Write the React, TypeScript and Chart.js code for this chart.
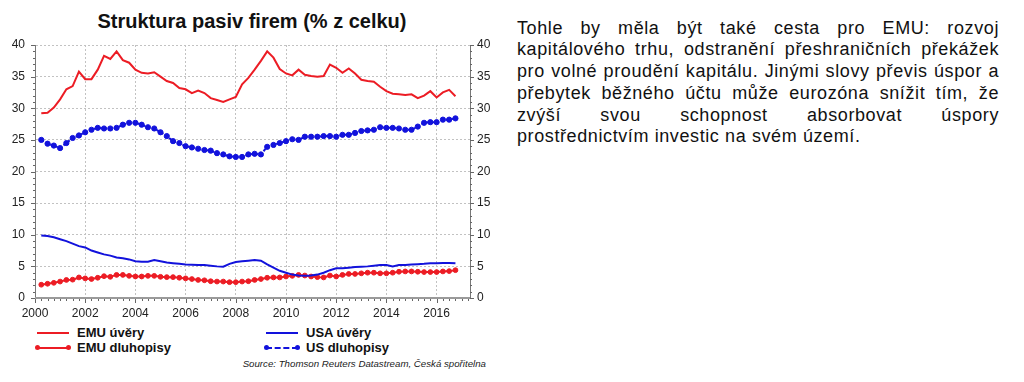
import React, { useEffect, useRef } from 'react';
import { Chart, registerables } from 'chart.js';

Chart.register(...registerables);

// Quarterly observation dates (categories)
const quarters: number[] = [
  2000.25, 2000.5, 2000.75,
  2001.0, 2001.25, 2001.5, 2001.75,
  2002.0, 2002.25, 2002.5, 2002.75,
  2003.0, 2003.25, 2003.5, 2003.75,
  2004.0, 2004.25, 2004.5, 2004.75,
  2005.0, 2005.25, 2005.5, 2005.75,
  2006.0, 2006.25, 2006.5, 2006.75,
  2007.0, 2007.25, 2007.5, 2007.75,
  2008.0, 2008.25, 2008.5, 2008.75,
  2009.0, 2009.25, 2009.5, 2009.75,
  2010.0, 2010.25, 2010.5, 2010.75,
  2011.0, 2011.25, 2011.5, 2011.75,
  2012.0, 2012.25, 2012.5, 2012.75,
  2013.0, 2013.25, 2013.5, 2013.75,
  2014.0, 2014.25, 2014.5, 2014.75,
  2015.0, 2015.25, 2015.5, 2015.75,
  2016.0, 2016.25, 2016.5, 2016.75,
];

const emuUvery: number[] = [
  29.2, 29.3, 30.1,
  31.4, 33.0, 33.5, 35.8,
  34.6, 34.6, 36.1, 38.3,
  37.8, 39.0, 37.6, 37.2,
  36.1, 35.6, 35.5, 35.7,
  35.0, 34.3, 34.0, 33.2,
  33.0, 32.4, 32.8, 32.4,
  31.6, 31.3, 31.0, 31.4,
  31.8, 33.8, 34.8, 36.1,
  37.5, 39.0, 38.0, 36.2,
  35.5, 35.2, 36.1, 35.3,
  35.1, 35.0, 35.1, 36.9,
  36.4, 35.6, 36.3, 35.5,
  34.5, 34.3, 34.2, 33.4,
  32.7, 32.3, 32.2, 32.1,
  32.2, 31.6, 32.0, 32.7,
  31.7, 32.5, 32.9, 31.9,
];

const usDluhopisy: number[] = [
  25.0, 24.4, 24.1,
  23.7, 24.5, 25.3, 25.7,
  26.2, 26.6, 26.9, 26.8,
  26.8, 26.9, 27.4, 27.7,
  27.7, 27.4, 27.0, 26.8,
  26.2, 25.6, 24.8, 24.5,
  24.0, 23.8, 23.6, 23.4,
  23.3, 22.9, 22.7, 22.4,
  22.3, 22.3, 22.7, 22.8,
  22.7, 23.9, 24.2, 24.5,
  24.8, 25.1, 25.0, 25.5,
  25.5, 25.5, 25.6, 25.6,
  25.5, 25.8, 25.8, 26.1,
  26.4, 26.5, 26.6, 27.0,
  26.9, 26.9, 26.8, 26.6,
  26.6, 27.1, 27.7, 27.8,
  27.8, 28.2, 28.2, 28.4,
];

const usaUvery: number[] = [
  9.9, 9.8, 9.6,
  9.3, 9.0, 8.6, 8.2,
  8.0, 7.5, 7.2, 6.9,
  6.7, 6.4, 6.3, 6.1,
  5.8, 5.75, 5.75, 6.0,
  5.8, 5.6, 5.5, 5.4,
  5.3, 5.25, 5.2, 5.2,
  5.1, 5.0, 4.95, 5.4,
  5.7, 5.8, 5.9, 6.0,
  5.9, 5.3, 4.8, 4.3,
  4.0, 3.7, 3.55, 3.5,
  3.55, 3.7, 4.0, 4.4,
  4.7, 4.7, 4.8, 4.9,
  4.95, 5.0, 5.1, 5.2,
  5.2, 5.0, 5.2, 5.2,
  5.3, 5.35, 5.4, 5.5,
  5.5, 5.55, 5.55, 5.5,
];

const emuDluhopisy: number[] = [
  2.1, 2.25, 2.4,
  2.6, 2.85, 2.9, 3.25,
  3.1, 3.0, 3.2, 3.45,
  3.35, 3.65, 3.65, 3.5,
  3.4, 3.4, 3.5, 3.5,
  3.35, 3.3, 3.3, 3.2,
  3.1, 3.0, 2.85, 2.8,
  2.65, 2.6, 2.6, 2.5,
  2.5, 2.6, 2.65, 2.85,
  3.0, 3.2, 3.25, 3.25,
  3.4, 3.5, 3.65, 3.55,
  3.4, 3.3, 3.25, 3.55,
  3.4, 3.65, 3.8, 3.8,
  3.9, 4.0, 4.0, 3.9,
  3.9, 4.0, 4.15, 4.2,
  4.2, 4.15, 4.1, 4.1,
  4.1, 4.2, 4.25, 4.4,
];

const yearTicks: number[] = [2000, 2002, 2004, 2006, 2008, 2010, 2012, 2014, 2016];
const valueTicks: number[] = [0, 5, 10, 15, 20, 25, 30, 35, 40];

const X_MIN = 2000;
const X_MAX = 2017.33;
const Y_MIN = 0;
const Y_MAX = 40;

const RED = '#ec1c24';
const BLUE = '#1212dc';
const FONT = '"Liberation Sans", Arial, sans-serif';

const paragraphLines: string[] = [
  'Tohle by měla být také cesta pro EMU: rozvoj',
  'kapitálového trhu, odstranění přeshraničních překážek',
  'pro volné proudění kapitálu. Jinými slovy převis úspor a',
  'přebytek běžného účtu může eurozóna snížit tím, že',
  'zvýší svou schopnost absorbovat úspory',
  'prostřednictvím investic na svém území.',
];

const tickMarksPlugin = {
  id: 'tickMarks',
  afterDraw(chart: any) {
    const { ctx, chartArea, scales } = chart;
    const { left, right, bottom } = chartArea;
    ctx.save();
    ctx.strokeStyle = '#666';
    ctx.lineWidth = 1;
    ctx.beginPath();
    for (let v = Y_MIN; v <= Y_MAX; v += 1) {
      const y = Math.round(scales.y.getPixelForValue(v)) + 0.5;
      const len = v % 5 === 0 ? 4 : 2;
      ctx.moveTo(left - len, y);
      ctx.lineTo(left, y);
      ctx.moveTo(right, y);
      ctx.lineTo(right + len, y);
    }
    for (let q = X_MIN; q <= X_MAX; q += 0.25) {
      const x = Math.round(scales.x.getPixelForValue(q)) + 0.5;
      const len = Math.abs(q % 2) < 1e-6 ? 5 : 3;
      ctx.moveTo(x, bottom);
      ctx.lineTo(x, bottom + len);
    }
    ctx.stroke();
    // thick bottom axis
    ctx.strokeStyle = '#9a9a9a';
    ctx.lineWidth = 2;
    ctx.beginPath();
    ctx.moveTo(left, bottom);
    ctx.lineTo(right, bottom);
    ctx.stroke();
    ctx.restore();
  },
};

function ChartCanvas() {
  const ref = useRef<HTMLCanvasElement | null>(null);
  useEffect(() => {
    if (!ref.current) return;
    const pts = (arr: number[]) => quarters.map((q, i) => ({ x: q, y: arr[i] }));
    const chart = new Chart(ref.current, {
      type: 'line',
      data: {
        datasets: [
          {
            label: 'EMU úvěry',
            data: pts(emuUvery),
            borderColor: RED,
            backgroundColor: RED,
            borderWidth: 2,
            pointRadius: 0,
            tension: 0,
          },
          {
            label: 'USA úvěry',
            data: pts(usaUvery),
            borderColor: BLUE,
            backgroundColor: BLUE,
            borderWidth: 2,
            pointRadius: 0,
            tension: 0,
          },
          {
            label: 'EMU dluhopisy',
            data: pts(emuDluhopisy),
            borderColor: RED,
            backgroundColor: RED,
            borderWidth: 2,
            pointRadius: 2.4,
            pointBorderWidth: 1,
            tension: 0,
          },
          {
            label: 'US dluhopisy',
            data: pts(usDluhopisy),
            borderColor: BLUE,
            backgroundColor: BLUE,
            borderWidth: 2,
            borderDash: [3, 2],
            pointRadius: 2.6,
            pointBorderWidth: 1,
            tension: 0,
          },
        ],
      } as any,
      options: {
        animation: false,
        responsive: false,
        maintainAspectRatio: false,
        layout: { padding: { top: 45, left: 0, right: 0, bottom: 0 } },
        font: { family: FONT },
        plugins: {
          legend: { display: false },
          tooltip: { enabled: false },
          title: { display: false },
        },
        scales: {
          x: {
            type: 'linear',
            min: X_MIN,
            max: X_MAX,
            afterBuildTicks: (s: any) => {
              s.ticks = yearTicks.map((v) => ({ value: v }));
            },
            afterFit: (s: any) => {
              s.height = 27;
            },
            grid: { color: '#c2c2c2', lineWidth: 1, drawTicks: false },
            border: { display: false, dash: [2, 2] },
            ticks: {
              padding: 8,
              color: '#222',
              font: { family: FONT, size: 12 },
              maxRotation: 0,
              autoSkip: false,
              callback: (v: any) => String(v),
            },
          },
          y: {
            type: 'linear',
            position: 'left',
            min: Y_MIN,
            max: Y_MAX,
            afterBuildTicks: (s: any) => {
              s.ticks = valueTicks.map((v) => ({ value: v }));
            },
            afterFit: (s: any) => {
              s.width = 35;
            },
            grid: { color: '#c2c2c2', lineWidth: 1, drawTicks: false },
            border: { display: true, color: '#777', width: 1, dash: [2, 2] },
            ticks: {
              padding: 10,
              color: '#222',
              font: { family: FONT, size: 12 },
              callback: (v: any) => String(v),
            },
          },
          y2: {
            type: 'linear',
            position: 'right',
            min: Y_MIN,
            max: Y_MAX,
            afterBuildTicks: (s: any) => {
              s.ticks = valueTicks.map((v) => ({ value: v }));
            },
            afterFit: (s: any) => {
              s.width = 40;
            },
            grid: { drawOnChartArea: false, drawTicks: false },
            border: { display: true, color: '#777', width: 1 },
            ticks: {
              padding: 7,
              color: '#222',
              font: { family: FONT, size: 12 },
              callback: (v: any) => String(v),
            },
          },
        },
      } as any,
      plugins: [tickMarksPlugin],
    });
    return () => chart.destroy();
  }, []);
  return (
    <canvas
      ref={ref}
      width={510}
      height={325}
      style={{ position: 'absolute', left: 0, top: 0, width: 510, height: 325 }}
    />
  );
}

function LegendSample({ color, dots, dashed }: { color: string; dots?: boolean; dashed?: boolean }) {
  return (
    <div style={{ position: 'relative', width: 32, height: 8 }}>
      <div
        style={{
          position: 'absolute',
          left: 0,
          right: 0,
          top: 3,
          height: 0,
          borderTop: `2px ${dashed ? 'dashed' : 'solid'} ${color}`,
        }}
      />
      {dots && (
        <>
          <div style={{ position: 'absolute', left: -2, top: 1.5, width: 5, height: 5, borderRadius: 3, background: color }} />
          <div style={{ position: 'absolute', right: -2, top: 1.5, width: 5, height: 5, borderRadius: 3, background: color }} />
        </>
      )}
    </div>
  );
}

function LegendItem({ x, top, label, color, dots, dashed }: any) {
  return (
    <div
      style={{
        position: 'absolute',
        left: x,
        top,
        display: 'flex',
        alignItems: 'center',
        height: 15,
        fontFamily: FONT,
        fontWeight: 'bold',
        fontSize: 13,
        lineHeight: '15px',
        color: '#111',
        whiteSpace: 'nowrap',
      }}
    >
      <LegendSample color={color} dots={dots} dashed={dashed} />
      <span style={{ marginLeft: 8 }}>{label}</span>
    </div>
  );
}

export default function App() {
  return (
    <div style={{ position: 'absolute', left: 0, top: 0, width: 1024, height: 382, background: '#fff', overflow: 'hidden' }}>
      <div
        style={{
          position: 'absolute',
          left: 0,
          width: 504,
          top: 11,
          textAlign: 'center',
          fontFamily: FONT,
          fontWeight: 'bold',
          fontSize: 20,
          lineHeight: '20px',
          color: '#111',
          whiteSpace: 'nowrap',
        }}
      >
        Struktura pasiv firem (% z celku)
      </div>
      <ChartCanvas />
      <LegendItem x={37} top={325} label="EMU úvěry" color={RED} />
      <LegendItem x={37} top={340} label="EMU dluhopisy" color={RED} dots />
      <LegendItem x={266} top={325} label="USA úvěry" color={BLUE} />
      <LegendItem x={266} top={340} label="US dluhopisy" color={BLUE} dots dashed />
      <div
        style={{
          position: 'absolute',
          right: 1024 - 486,
          top: 358,
          fontFamily: FONT,
          fontStyle: 'italic',
          fontSize: 9.7,
          lineHeight: '12px',
          color: '#222',
          whiteSpace: 'nowrap',
        }}
      >
        Source: Thomson Reuters Datastream, Česká spořitelna
      </div>
      <div
        style={{
          position: 'absolute',
          left: 517,
          top: 17.7,
          width: 482,
          fontFamily: FONT,
          fontSize: 18,
          letterSpacing: '0.6px',
          lineHeight: '21.7px',
          color: '#111',
        }}
      >
        {paragraphLines.map((line, i) => (
          <div
            key={i}
            style={{
              textAlign: 'justify',
              textAlignLast: i < paragraphLines.length - 1 ? 'justify' : 'left',
            } as any}
          >
            {line}
          </div>
        ))}
      </div>
    </div>
  );
}
